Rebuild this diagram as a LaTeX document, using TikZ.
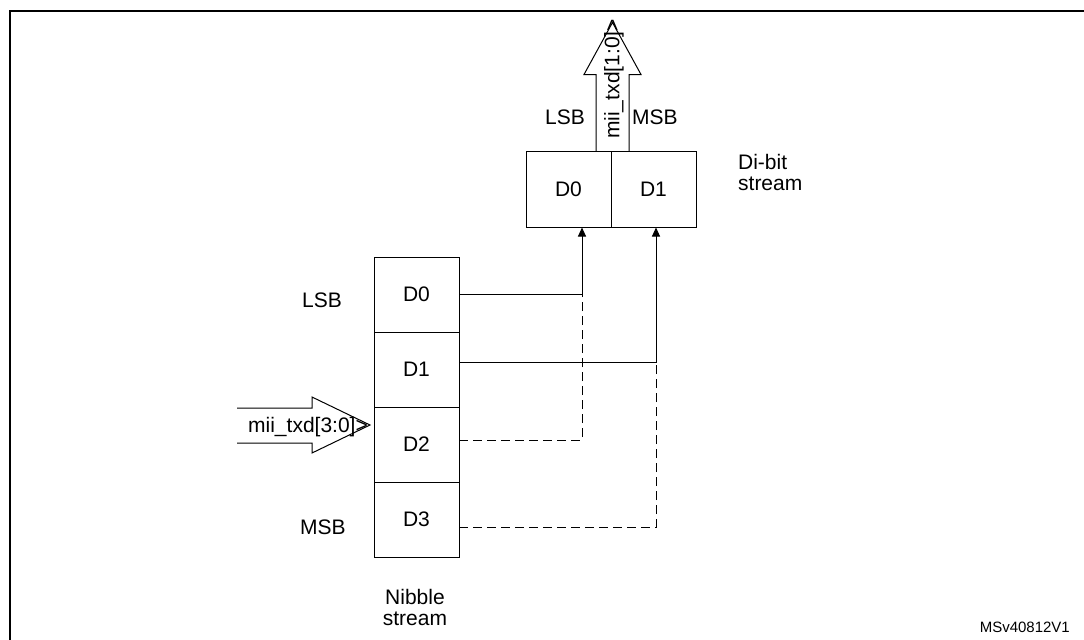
\documentclass[tikz,border=0pt]{standalone}
\usepackage{fontspec}
\setmainfont{Liberation Sans}
\usetikzlibrary{arrows.meta,positioning}

\begin{document}
\begin{tikzpicture}[x=0.5pt,y=-0.5pt,line width=0.5pt,
  font=\fontsize{10.5pt}{10.5pt}\selectfont,
  cell/.style={draw,minimum width=42.5pt,minimum height=37.5pt,inner sep=0pt,outer sep=0pt},
  link/.style={-{Triangle[length=4.5pt,width=4pt]}},
  spare/.style={dash pattern=on 4.5pt off 2.5pt},
  bus/.style={line join=miter}]
\useasboundingbox (0,0) rectangle (1084,639);
\clip (0,0) rectangle (1084,639);
\draw[line width=1pt] (10,10.5) rectangle (1100,660);

% nibble stream
\node[cell] (n0) at (416.5,294.5) {D0};
\node[cell,below=0pt of n0] (n1) {D1};
\node[cell,below=0pt of n1] (n2) {D2};
\node[cell,below=0pt of n2] (n3) {D3};
\node (nlsb) at (322,300) {LSB};
\node (nmsb) at (323,527) {MSB};
\node[align=center] (nname) at (415,607) {Nibble\\stream};

% di-bit stream
\node[cell,minimum height=38pt] (d0) at (568.5,189.5) {D0};
\node[cell,minimum height=38pt,right=0pt of d0] (d1) {D1};
\node[align=left,anchor=west] (dname) at (731,172) {Di-bit\\stream};
\node (dlsb) at (565,117) {LSB};
\node (dmsb) at (655,117) {MSB};

% output bus
\coordinate (outBase) at ([xshift=0.75pt]d0.north east);
\draw[bus] ([shift={(-8.25pt,0pt)}]outBase) -- ([shift={(-8.25pt,38.5pt)}]outBase)
  -- ([shift={(-14.25pt,38.5pt)}]outBase) -- ([shift={(0pt,64.5pt)}]outBase)
  -- ([shift={(14.25pt,38.5pt)}]outBase) -- ([shift={(8.25pt,38.5pt)}]outBase)
  -- ([shift={(8.25pt,0pt)}]outBase);
\node[rotate=90] (outlbl) at (614,79) {mii\_txd[1:0]>};

% input bus
\coordinate (inTip) at (370,425);
\draw[bus] ([shift={(-66.5pt,8.5pt)}]inTip) -- ([shift={(-29pt,8.5pt)}]inTip)
  -- ([shift={(-29pt,14pt)}]inTip) -- (inTip) -- ([shift={(-29pt,-14pt)}]inTip)
  -- ([shift={(-29pt,-9pt)}]inTip) -- ([shift={(-66.5pt,-9pt)}]inTip);
\node (inlbl) at (308,427) {mii\_txd[3:0]>};

% bit routing
\coordinate (s0) at (n0.east);
\coordinate (s1) at ([yshift=3.5pt]n1.east);
\coordinate (s2) at ([yshift=2.25pt]n2.east);
\coordinate (s3) at ([yshift=-3.75pt]n3.east);
\coordinate (t0) at ([xshift=6.75pt]d0.south);
\coordinate (t1) at ([xshift=1.25pt]d1.south);
\draw[link] (s0) -| (t0);
\draw[link] (s1) -| (t1);
\draw[spare] (s2) -| (t0 |- s0);
\draw[spare] (s3) -| (t1 |- s1);

\node[font=\fontsize{7.5pt}{9pt}\selectfont,anchor=east] (tag) at (1077,627) {MSv40812V1};
\end{tikzpicture}
\end{document}
